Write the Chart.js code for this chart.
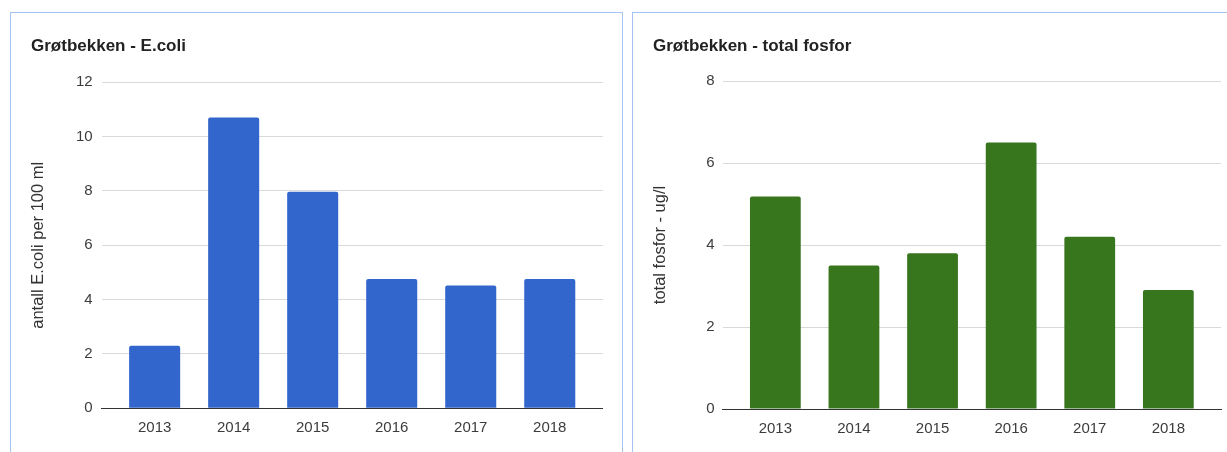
<!DOCTYPE html>
<html>
<head>
<meta charset="utf-8">
<script src="https://cdn.jsdelivr.net/npm/chart.js@4"></script>
<style>
  body { margin: 0; background: #fff; width: 1227px; height: 452px; overflow: hidden; position: relative; }
  .panel { position: absolute; border: 1px solid #a4c2f4; background: #fff; }
  .box { position: absolute; }
</style>
</head>
<body>
<div class="panel" style="left:10px; top:12px; width:611px; height:500px;"></div>
<div class="panel" style="left:632px; top:12px; width:700px; height:500px;"></div>
<div class="box" style="left:11px; top:13px; width:611px; height:439px;"><canvas id="ecoliChart"></canvas></div>
<div class="box" style="left:633px; top:13px; width:594px; height:439px;"><canvas id="fosforChart"></canvas></div>
<script>
const years = [2013, 2014, 2015, 2016, 2017, 2018];
const ecoliValues = [2.3, 10.7, 7.97, 4.76, 4.52, 4.76];
const fosforValues = [5.18, 3.5, 3.8, 6.5, 4.2, 2.9];
const ecoliTicks = [0, 2, 4, 6, 8, 10, 12];
const fosforTicks = [0, 2, 4, 6, 8];

const FONT = "Arial, 'Liberation Sans', sans-serif";

function makeChart(id, values, yTicks, color, title, yTitle, g) {
  return new Chart(id, {
    type: "bar",
    data: {
      datasets: [{
        data: years.map((y, i) => ({x: y, y: values[i]})),
        backgroundColor: color,
        borderRadius: 2,
        borderSkipped: "start",
        categoryPercentage: 1,
        barPercentage: 0.646
      }]
    },
    options: {
      responsive: true,
      maintainAspectRatio: false,
      animation: false,
      layout: {padding: {left: 20, right: g.right, top: 0, bottom: 0}},
      plugins: {
        legend: {display: false},
        tooltip: {enabled: false},
        title: {
          display: true,
          text: title,
          align: "start",
          color: "#222",
          font: {family: FONT, size: 17, weight: "bold"},
          padding: {top: 22.8, bottom: g.titleBottom}
        }
      },
      scales: {
        x: {
          type: "linear",
          offset: false,
          min: years[0] - 0.67,
          max: years[years.length - 1] + 0.67,
          afterBuildTicks: s => { s.ticks = years.map(v => ({value: v})); },
          afterFit: s => { s.height = g.xh; },
          grid: {drawOnChartArea: false, drawTicks: false},
          border: {display: true, color: "#333", width: 1, z: 1},
          ticks: {
            padding: 11,
            color: "#3c3c3c",
            font: {family: FONT, size: 15},
            callback: v => String(v)
          }
        },
        y: {
          min: yTicks[0],
          max: yTicks[yTicks.length - 1],
          afterBuildTicks: s => { s.ticks = yTicks.map(v => ({value: v})); },
          afterFit: s => { s.width = g.yw; },
          grid: {color: "#d9d9d9", lineWidth: 1, drawTicks: false},
          border: {display: false},
          ticks: {
            padding: g.tickPad,
            color: "#3c3c3c",
            font: {family: FONT, size: 15}
          },
          title: {
            display: true,
            text: yTitle,
            color: "#333",
            font: {family: FONT, size: 16.5},
            padding: {top: -2, bottom: 0}
          }
        }
      }
    }
  });
}

makeChart("ecoliChart", ecoliValues, ecoliTicks, "#3366cc",
  "Grøtbekken - E.coli", "antall E.coli per 100 ml",
  {right: 19.3, yw: 70.7, xh: 43.7, titleBottom: 26.1, tickPad: 9});

makeChart("fosforChart", fosforValues, fosforTicks, "#38761d",
  "Grøtbekken - total fosfor", "total fosfor - ug/l",
  {right: 6, yw: 69.7, xh: 43, titleBottom: 24.8, tickPad: 8});
</script>
</body>
</html>
